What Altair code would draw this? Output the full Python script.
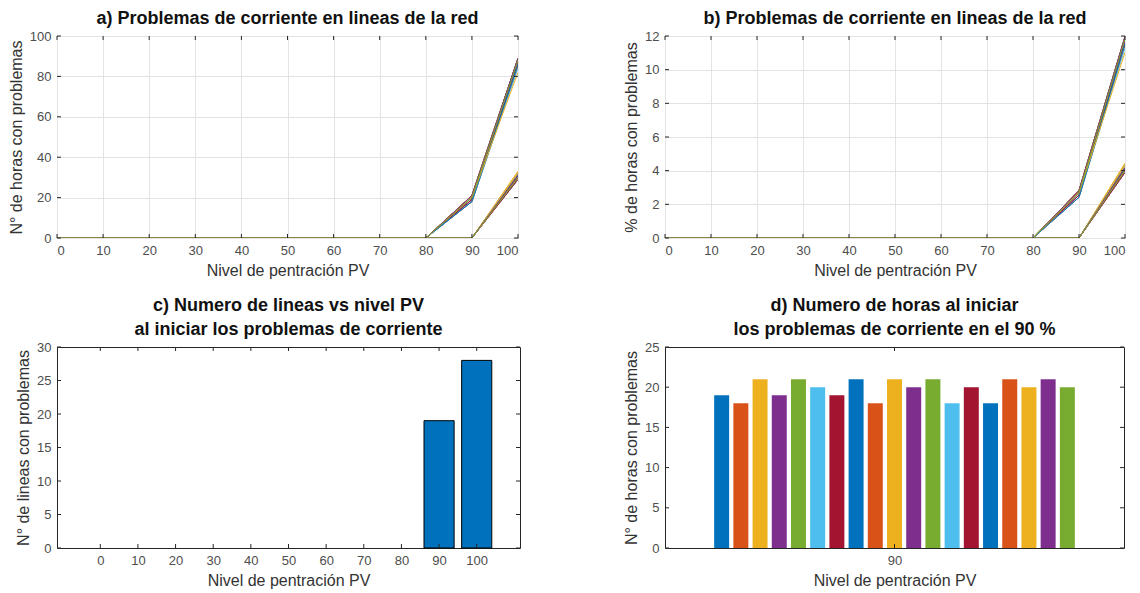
import altair as alt
import pandas as pd

# PV penetration levels (%)
pv_levels = [0, 10, 20, 30, 40, 50, 60, 70, 80, 90, 100]

# Lines that start overloading at 80 % PV: hours with problems at 90 % and 100 %
early_h90 = [19, 18, 21, 19, 21, 20, 19, 21, 18, 21, 20, 21, 18, 20, 18, 21, 20, 21, 20]
early_h100 = [88, 86, 89, 87, 89, 88, 87, 89, 85, 88, 87, 89, 84, 88, 86, 89, 82, 89, 88]

# Lines that start overloading at 90 % PV: hours with problems at 100 %
late_h100 = [31, 30, 32, 31, 33, 30, 31, 32, 29, 31, 30, 32, 31, 30,
             29, 32, 31, 30, 33, 31, 30, 32, 29, 31, 30, 32, 31, 30]

hours_in_period = 744

# Number of lines whose problems begin at each PV level
lines_per_level = [0, 0, 0, 0, 0, 0, 0, 0, 0, 19, 28]

# Default MATLAB colour order
matlab_colors = ["#0072BD", "#D95319", "#EDB120", "#7E2F8E", "#77AC30", "#4DBEEE", "#A2142F"]

x_ticks = pv_levels
a_y_ticks = [0, 20, 40, 60, 80, 100]
b_y_ticks = [0, 2, 4, 6, 8, 10, 12]
c_y_ticks = [0, 5, 10, 15, 20, 25, 30]
d_y_ticks = [0, 5, 10, 15, 20, 25]

FONT = "Liberation Sans"
TICK_LEN = 4
XTITLE = "Nivel de pentración PV"

# ---- per-line time series -------------------------------------------------
rows = []
line_id = 0
for h90, h100 in zip(early_h90, early_h100):
    for lv in pv_levels:
        h = h90 if lv == 90 else (h100 if lv == 100 else 0)
        rows.append({"line": line_id, "pv": lv, "hours": h,
                     "col": matlab_colors[line_id % 7]})
    line_id += 1
for h100 in late_h100:
    for lv in pv_levels:
        h = h100 if lv == 100 else 0
        rows.append({"line": line_id, "pv": lv, "hours": h,
                     "col": matlab_colors[line_id % 7]})
    line_id += 1
lines_df = pd.DataFrame(rows)
lines_df["pct"] = lines_df["hours"] / hours_in_period * 100

counts_df = pd.DataFrame({"pv": pv_levels, "n": lines_per_level})
counts_df["x0"] = counts_df["pv"] - 4
counts_df["x1"] = counts_df["pv"] + 4

bars_df = pd.DataFrame({"idx": list(range(len(early_h90))), "hours": early_h90})
bars_df["col"] = [matlab_colors[i % 7] for i in bars_df["idx"]]
bars_df["x0"] = bars_df["idx"] - 0.39
bars_df["x1"] = bars_df["idx"] + 0.39


def inward_ticks(xvals, yvals, xscale, yscale, xaxis, yaxis, w, h):
    """Small tick marks drawn inside the box on all four sides."""
    xt = pd.DataFrame({"tx": xvals})
    yt = pd.DataFrame({"ty": yvals})
    style = dict(color="#262626", strokeWidth=1)
    xe = alt.X("tx:Q", scale=xscale, axis=xaxis)
    ye = alt.Y("ty:Q", scale=yscale, axis=yaxis)
    top = alt.Chart(xt).mark_rule(**style).encode(x=xe, y=alt.value(0), y2=alt.value(TICK_LEN))
    bot = alt.Chart(xt).mark_rule(**style).encode(x=xe, y=alt.value(h), y2=alt.value(h - TICK_LEN))
    left = alt.Chart(yt).mark_rule(**style).encode(y=ye, x=alt.value(0), x2=alt.value(TICK_LEN))
    right = alt.Chart(yt).mark_rule(**style).encode(y=ye, x=alt.value(w), x2=alt.value(w - TICK_LEN))
    return [top, bot, left, right]


def line_panel(field, ymax, yticks, ytitle, title, w, h):
    xs = alt.Scale(domain=[0, 100], nice=False, zero=False)
    ys = alt.Scale(domain=[0, ymax], nice=False)
    xa = alt.Axis(values=x_ticks, grid=True, title=XTITLE)
    ya = alt.Axis(values=yticks, grid=True, title=ytitle)
    base = alt.Chart(lines_df).mark_line(strokeWidth=1, clip=True).encode(
        x=alt.X("pv:Q", scale=xs, axis=xa),
        y=alt.Y(f"{field}:Q", scale=ys, axis=ya),
        color=alt.Color("col:N", scale=None),
        detail="line:N",
    )
    return alt.layer(base, *inward_ticks(x_ticks, yticks, xs, ys, xa, ya, w, h)).properties(
        width=w, height=h, title=title)


panel_a = line_panel("hours", 100, a_y_ticks, "N° de horas con problemas",
                     "a) Problemas de corriente en lineas de la red", 461, 202)
panel_b = line_panel("pct", 12, b_y_ticks, "% de horas con problemas",
                     "b) Problemas de corriente en lineas de la red", 460, 202)

# ---- c) number of lines per PV level ---------------------------------------
c_xs = alt.Scale(domain=[-11.5, 111.5], nice=False, zero=False)
c_ys = alt.Scale(domain=[0, 30], nice=False)
c_xa = alt.Axis(values=x_ticks, grid=False, title=XTITLE)
c_ya = alt.Axis(values=c_y_ticks, grid=False, title="N° de lineas con problemas")
c_bars = alt.Chart(counts_df).transform_filter("datum.n > 0").mark_rect(
    color="#0072BD", stroke="#000000", strokeWidth=1).encode(
    x=alt.X("x0:Q", scale=c_xs, axis=c_xa),
    x2="x1:Q",
    y=alt.Y("n:Q", scale=c_ys, axis=c_ya),
    y2=alt.datum(0),
)
panel_c = alt.layer(
    c_bars, *inward_ticks(x_ticks, c_y_ticks, c_xs, c_ys, c_xa, c_ya, 463, 201)
).properties(
    width=463, height=201,
    title=["c) Numero de lineas vs nivel PV", "al iniciar los problemas de corriente"])

# ---- d) hours with problems at 90 % per line -------------------------------
d_xs = alt.Scale(domain=[-2.95, 20.95], nice=False, zero=False)
d_ys = alt.Scale(domain=[0, 25], nice=False)
d_xa = alt.Axis(values=[9], labelExpr="'90'", grid=False, title=XTITLE)
d_ya = alt.Axis(values=d_y_ticks, grid=False, title="N° de horas con problemas")
d_bars = alt.Chart(bars_df).mark_rect().encode(
    x=alt.X("x0:Q", scale=d_xs, axis=d_xa),
    x2="x1:Q",
    y=alt.Y("hours:Q", scale=d_ys, axis=d_ya),
    y2=alt.datum(0),
    color=alt.Color("col:N", scale=None),
)
panel_d = alt.layer(
    d_bars, *inward_ticks([9], d_y_ticks, d_xs, d_ys, d_xa, d_ya, 459, 201)
).properties(
    width=459, height=201,
    title=["d) Numero de horas al iniciar", "los problemas de corriente en el 90 %"])

chart = alt.concat(
    panel_a, panel_b, panel_c, panel_d,
    columns=2, spacing=alt.RowColnumber(row=109, column=145), bounds="flush",
).properties(
    padding={"left": 7, "top": 9, "right": 0, "bottom": 0},
    background="#ffffff",
).configure_view(
    stroke="#262626", strokeWidth=1,
).configure_axis(
    labelFont=FONT, labelFontSize=13, labelColor="#4d4d4d",
    titleFont=FONT, titleFontSize=16, titleFontWeight="normal", titleColor="#333333",
    domain=False, ticks=False, labelPadding=6, titlePadding=5,
    gridColor="#e3e3e3", gridWidth=1,
).configure_title(
    font=FONT, fontSize=18, fontWeight="bold", color="#111111",
    anchor="middle", offset=2, lineHeight=24,
)

chart.save("out.html", embed_options={"renderer": "svg", "actions": False})
